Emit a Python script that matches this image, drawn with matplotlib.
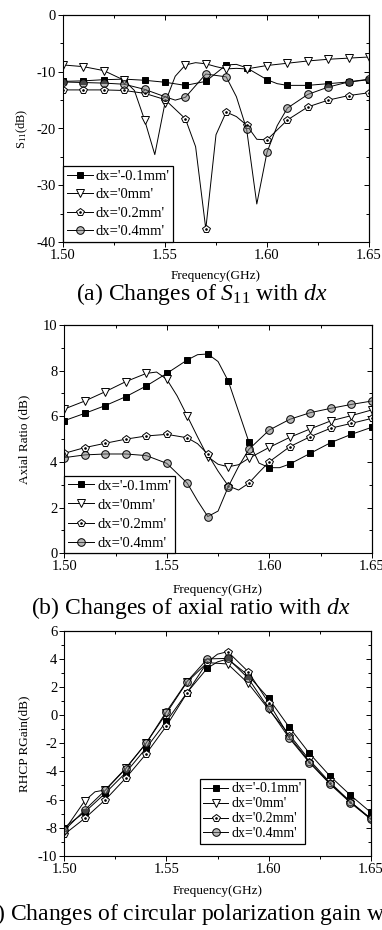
import numpy as np
import matplotlib
matplotlib.use("Agg")
import matplotlib.pyplot as plt
from matplotlib.ticker import MultipleLocator, FormatStrFormatter
from matplotlib.legend_handler import HandlerTuple

plt.rcParams['font.family'] = ['Liberation Serif', 'DejaVu Serif']
plt.rcParams['mathtext.fontset'] = 'custom'
plt.rcParams['mathtext.rm'] = 'Liberation Serif'
plt.rcParams['mathtext.it'] = 'Liberation Serif:italic'
plt.rcParams['axes.unicode_minus'] = False

labels = ["dx='-0.1mm'", "dx='0mm'", "dx='0.2mm'", "dx='0.4mm'"]

# (a) S11 (dB)
s11_f_m01 = [1.50, 1.51, 1.52, 1.53, 1.54, 1.55, 1.56, 1.57, 1.58, 1.585, 1.59, 1.60, 1.605, 1.61, 1.62, 1.63, 1.64, 1.65]
s11_m01 = [-11.7, -11.6, -11.4, -11.3, -11.5, -11.85, -12.4, -11.7, -8.8, -8.7, -9.3, -11.4, -12.1, -12.4, -12.4, -12.1, -11.8, -11.4]
s11_f_0 = [1.50, 1.51, 1.52, 1.53, 1.535, 1.54, 1.545, 1.55, 1.555, 1.56, 1.565, 1.57, 1.575, 1.58, 1.585, 1.59, 1.60, 1.61, 1.62, 1.63, 1.64, 1.65]
s11_0 = [-8.8, -9.1, -9.8, -11.5, -13.3, -18.5, -24.6, -15.5, -10.8, -8.8, -8.4, -8.6, -9.1, -9.5, -9.4, -9.5, -8.9, -8.5, -8.1, -7.8, -7.6, -7.4]
s11_f_02 = [1.50, 1.51, 1.52, 1.53, 1.54, 1.55, 1.56, 1.565, 1.57, 1.575, 1.58, 1.585, 1.59, 1.595, 1.60, 1.61, 1.62, 1.63, 1.64, 1.65]
s11_02 = [-13.2, -13.2, -13.2, -13.3, -13.8, -14.9, -18.3, -23.2, -37.7, -21.1, -17.1, -17.9, -19.4, -21.9, -22.0, -18.5, -16.2, -15.0, -14.2, -13.7]
s11_f_04 = [1.50, 1.51, 1.52, 1.53, 1.54, 1.55, 1.555, 1.56, 1.57, 1.58, 1.585, 1.59, 1.595, 1.60, 1.605, 1.61, 1.62, 1.63, 1.64, 1.65]
s11_04 = [-11.8, -11.9, -12.0, -12.2, -13.1, -14.4, -15.0, -14.5, -10.4, -10.9, -14.4, -20.1, -33.3, -24.2, -19.5, -16.4, -14.0, -12.7, -11.8, -11.3]

# (b) axial ratio (dB)
ar_f_m01 = [1.50, 1.51, 1.52, 1.53, 1.54, 1.55, 1.56, 1.565, 1.57, 1.575, 1.58, 1.59, 1.595, 1.60, 1.605, 1.61, 1.62, 1.63, 1.64, 1.65]
ar_m01 = [5.81, 6.13, 6.47, 6.86, 7.33, 7.88, 8.47, 8.70, 8.73, 8.40, 7.54, 4.89, 3.95, 3.75, 3.75, 3.91, 4.38, 4.85, 5.21, 5.52]
ar_f_0 = [1.50, 1.51, 1.52, 1.53, 1.54, 1.545, 1.55, 1.555, 1.56, 1.565, 1.57, 1.575, 1.58, 1.585, 1.59, 1.60, 1.61, 1.62, 1.63, 1.64, 1.65]
ar_0 = [6.32, 6.67, 7.08, 7.52, 7.88, 7.94, 7.62, 6.9, 6.01, 5.1, 4.23, 3.9, 3.79, 3.88, 4.16, 4.64, 5.08, 5.45, 5.8, 6.03, 6.28]
ar_f_02 = [1.50, 1.51, 1.52, 1.53, 1.54, 1.55, 1.56, 1.565, 1.57, 1.575, 1.58, 1.585, 1.59, 1.595, 1.60, 1.61, 1.62, 1.63, 1.64, 1.65]
ar_02 = [4.38, 4.63, 4.82, 5.0, 5.14, 5.21, 5.06, 4.8, 4.34, 3.6, 2.95, 2.77, 3.07, 3.55, 4.01, 4.67, 5.11, 5.48, 5.69, 5.91]
ar_f_04 = [1.50, 1.51, 1.52, 1.53, 1.54, 1.55, 1.56, 1.565, 1.57, 1.575, 1.58, 1.585, 1.59, 1.60, 1.61, 1.62, 1.63, 1.64, 1.65]
ar_04 = [4.19, 4.31, 4.35, 4.35, 4.28, 3.94, 3.07, 2.3, 1.61, 1.85, 2.92, 3.8, 4.55, 5.40, 5.87, 6.16, 6.35, 6.52, 6.67]

# (c) RHCP gain (dB)
g_f_m01 = [1.50, 1.51, 1.52, 1.53, 1.54, 1.55, 1.56, 1.57, 1.575, 1.58, 1.59, 1.60, 1.61, 1.62, 1.63, 1.64, 1.65]
g_m01 = [-8.0, -6.9, -5.56, -4.1, -2.35, -0.43, 1.6, 3.35, 3.8, 4.01, 2.85, 1.21, -0.83, -2.71, -4.32, -5.68, -6.91]
g_f_0 = [1.50, 1.51, 1.515, 1.52, 1.53, 1.54, 1.55, 1.56, 1.57, 1.58, 1.59, 1.60, 1.61, 1.62, 1.63, 1.64, 1.65]
g_0 = [-8.2, -6.1, -5.45, -5.32, -3.78, -2.0, 0.14, 2.35, 3.75, 3.65, 2.28, 0.43, -1.35, -3.18, -4.77, -6.15, -7.39]
g_f_02 = [1.50, 1.51, 1.52, 1.53, 1.54, 1.55, 1.56, 1.57, 1.575, 1.58, 1.59, 1.60, 1.61, 1.62, 1.63, 1.64, 1.65]
g_02 = [-8.48, -7.34, -6.03, -4.49, -2.76, -0.76, 1.57, 3.78, 4.35, 4.53, 3.11, 0.9, -1.5, -3.3, -4.85, -6.15, -7.34]
g_f_04 = [1.50, 1.51, 1.52, 1.53, 1.54, 1.55, 1.56, 1.57, 1.58, 1.59, 1.60, 1.61, 1.62, 1.63, 1.64, 1.65]
g_04 = [-8.2, -6.75, -5.35, -3.82, -2.0, 0.26, 2.39, 4.01, 4.05, 2.64, 0.5, -1.6, -3.37, -4.89, -6.22, -7.39]

styles = [
    dict(marker='s', mfc='black', mec='black', ms=5),
    dict(marker='v', mfc='white', mec='black', ms=6),
    dict(marker='p', mfc='white', mec='black', ms=6),
    dict(marker='o', mfc=(0.5, 0.5, 0.5, 0.55), mec='black', ms=5.5),
]


def draw(ax, series):
    handles = []
    for (f, v), st in zip(series, styles):
        f = np.array(f)
        v = np.array(v)
        on_grid = np.where(np.isclose(np.round(f * 100), f * 100))[0]
        ln, = ax.plot(f, v, color='black', lw=0.7, markevery=list(on_grid),
                      mew=0.7, **st)
        if st['marker'] == 'p':
            # the open pentagons carry a small dot in the middle
            dot, = ax.plot(f[on_grid], v[on_grid], ls='none', marker='o',
                           ms=0.9, color='black')
            handles.append((ln, dot))
        else:
            handles.append(ln)
    return handles


def style_axes(ax, ylim, ymaj, ymin, xlab_y, ylab_x):
    ax.set_xlim(1.50, 1.65)
    ax.set_ylim(*ylim)
    ax.xaxis.set_major_locator(MultipleLocator(0.05))
    ax.xaxis.set_minor_locator(MultipleLocator(0.025))
    ax.xaxis.set_major_formatter(FormatStrFormatter('%.2f'))
    ax.yaxis.set_major_locator(MultipleLocator(ymaj))
    ax.yaxis.set_minor_locator(MultipleLocator(ymin))
    ax.tick_params(which='major', direction='out', length=3.5, width=0.7, labelsize=10.5, pad=1.5)
    ax.tick_params(which='minor', direction='out', length=2, width=0.7)
    for s in ax.spines.values():
        s.set_linewidth(0.8)
    top = ax.secondary_xaxis('top')
    top.xaxis.set_major_locator(MultipleLocator(0.05))
    top.xaxis.set_minor_locator(MultipleLocator(0.025))
    top.tick_params(which='both', direction='in', labeltop=False, width=0.7)
    top.tick_params(which='major', length=3.5)
    top.tick_params(which='minor', length=2)
    right = ax.secondary_yaxis('right')
    right.yaxis.set_major_locator(MultipleLocator(ymaj))
    right.yaxis.set_minor_locator(MultipleLocator(ymin))
    right.tick_params(which='both', direction='in', labelright=False, width=0.7)
    right.tick_params(which='major', length=3.5)
    right.tick_params(which='minor', length=2)
    ax.set_xlabel('Frequency(GHz)', fontsize=9.5)
    ax.xaxis.set_label_coords(0.5, xlab_y)
    ax.yaxis.set_label_coords(ylab_x, 0.5)


def add_legend(ax, handles, size, spacing, **kw):
    leg = ax.legend(handles, labels, fontsize=size, frameon=True, fancybox=False,
                    edgecolor='black', framealpha=1, borderaxespad=0,
                    handlelength=1.8, handletextpad=0.2, labelspacing=spacing,
                    borderpad=0.25, handler_map={tuple: HandlerTuple(ndivide=1)}, **kw)
    leg.get_frame().set_linewidth(0.9)


fig = plt.figure(figsize=(3.82, 9.30), dpi=100)

ax1 = fig.add_axes([63 / 382, 1 - 242 / 930, 306 / 382, 227 / 930])
h = draw(ax1, [(s11_f_m01, s11_m01), (s11_f_0, s11_0), (s11_f_02, s11_02), (s11_f_04, s11_04)])
style_axes(ax1, (-40, 0), 10, 5, -0.125, -0.108)
ax1.set_ylabel(r'$\mathrm{S_{11}}$(dB)', fontsize=9)
add_legend(ax1, h, 10.5, 0.36, loc='lower left', bbox_to_anchor=(0, 0))

ax2 = fig.add_axes([64.3 / 382, 1 - 553.3 / 930, 307.5 / 382, 228.3 / 930])
h = draw(ax2, [(ar_f_m01, ar_m01), (ar_f_0, ar_0), (ar_f_02, ar_02), (ar_f_04, ar_04)])
style_axes(ax2, (0, 10), 2, 1, -0.133, -0.112)
ax2.set_ylabel('Axial Ratio (dB)', fontsize=9.5)
add_legend(ax2, h, 10.5, 0.4, loc='lower left', bbox_to_anchor=(0, 0))

ax3 = fig.add_axes([64.3 / 382, 1 - 855.7 / 930, 306.4 / 382, 224.7 / 930])
h = draw(ax3, [(g_f_m01, g_m01), (g_f_0, g_0), (g_f_02, g_02), (g_f_04, g_04)])
style_axes(ax3, (-10, 6), 2, 1, -0.132, -0.112)
ax3.set_ylabel('RHCP RGain(dB)', fontsize=9.5)
add_legend(ax3, h, 10, 0.14, loc='lower right', bbox_to_anchor=(0.785, 0.053))

fig.text(202 / 382, 1 - 294 / 930, r'(a) Changes of $S_{\mathrm{11}}$ with $dx$',
         fontsize=17, ha='center', va='center')
fig.text(191 / 382, 1 - 608 / 930, r'(b) Changes of axial ratio with $dx$',
         fontsize=17, ha='center', va='center')
fig.text(-22 / 382, 1 - 914 / 930, r'(c) Changes of circular polarization gain with $dx$',
         fontsize=17, ha='left', va='center')

fig.savefig('out.png', dpi=100)
